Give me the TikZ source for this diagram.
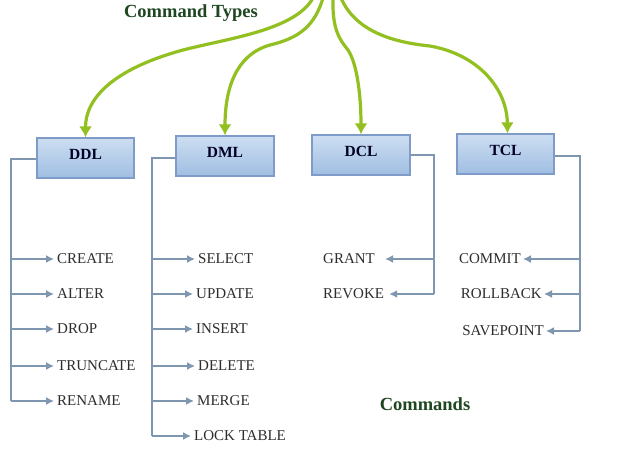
\documentclass[tikz,border=0pt]{standalone}
\usepackage{fontspec}
\setmainfont{Liberation Serif}
\usetikzlibrary{arrows.meta}
\definecolor{lgreen}{RGB}{146,192,32}
\definecolor{boxtop}{RGB}{205,222,242}
\definecolor{boxbot}{RGB}{160,190,226}
\definecolor{boxline}{RGB}{126,156,199}
\definecolor{conn}{RGB}{127,150,176}
\definecolor{itemtxt}{RGB}{45,45,45}
\definecolor{titlegreen}{RGB}{30,70,32}
\tikzset{
  cmdbox/.style={draw=boxline, line width=1.2pt, top color=boxtop, bottom color=boxbot,
    minimum width=97pt, minimum height=40pt, inner sep=0pt},
  boxlabel/.style={font=\fontsize{15.5}{18}\selectfont\bfseries, text=black!85!blue},
  item/.style={font=\fontsize{15}{17}\selectfont, text=itemtxt, inner xsep=2pt, inner ysep=1pt},
  bracket/.style={draw=conn, line width=1.5pt},
  arr/.style={draw=conn, line width=1.5pt, -{Latex[length=8pt,width=8pt]}},
  garr/.style={draw=lgreen, line width=3.2pt, -{Latex[length=11pt,width=13pt]}},
  title/.style={font=\fontsize{18.5}{21}\selectfont\bfseries, text=titlegreen}
}
\begin{document}
\begin{tikzpicture}[x=1pt,y=-1pt]
\clip (0,0) rectangle (634,452);
\fill[white] (0,0) rectangle (634,452);

% titles
\node[title] (ctypes) at (191,13) {Command Types};
\node[title] (cmds) at (425,404) {Commands};

% boxes
\node[cmdbox, label={[boxlabel, yshift=4pt]center:DDL}] (ddl) at (85.5,158) {};
\node[cmdbox, minimum width=98pt, label={[boxlabel, yshift=4pt]center:DML}] (dml) at (225,156) {};
\node[cmdbox, minimum width=98pt, label={[boxlabel, yshift=4pt]center:DCL}] (dcl) at (361,155) {};
\node[cmdbox, label={[boxlabel, yshift=4pt]center:TCL}] (tcl) at (505.5,154) {};

% root coordinates of the green arrows
\coordinate (r1) at (313,-2);
\coordinate (r2) at (323,-2);
\coordinate (r3) at (333,-2);
\coordinate (r4) at (341,-2);

\draw[garr] (r1) .. controls (295,30) and (230,38) .. (183,50)
  .. controls (110,70) and (85.5,100) .. (ddl.north);
\draw[garr] (r2) .. controls (315,25) and (300,38) .. (270,45)
  .. controls (235,55) and (225,90) .. (dml.north);
\draw[garr] (r3) .. controls (332,30) and (340,40) .. (348,50)
  .. controls (358,65) and (361,100) .. (dcl.north);
\draw[garr] (r4) .. controls (355,30) and (390,42) .. (430,46)
  .. controls (480,55) and (507,90) .. ([xshift=2pt]tcl.north);

% DDL items
\node[item, anchor=west] (create) at (55,259) {CREATE};
\node[item, anchor=west] (alter) at (55,294) {ALTER};
\node[item, anchor=west] (drop) at (55,329) {DROP};
\node[item, anchor=west] (truncate) at (55,366) {TRUNCATE};
\node[item, anchor=west] (rename) at (55,401) {RENAME};
\coordinate (ddlb) at (11,401);
\draw[bracket] ([yshift=-1pt]ddl.west) -| (ddlb);
\foreach \n in {create,alter,drop,truncate,rename}
  \draw[arr] (ddlb |- \n.west) -- ([xshift=-1pt]\n.west);

% DML items
\node[item, anchor=west] (select) at (196,259) {SELECT};
\node[item, anchor=west] (update) at (194,294) {UPDATE};
\node[item, anchor=west] (insert) at (194,329) {INSERT};
\node[item, anchor=west] (delete) at (196,366) {DELETE};
\node[item, anchor=west] (merge) at (195,401) {MERGE};
\node[item, anchor=west] (lock) at (192,436) {LOCK TABLE};
\coordinate (dmlb) at (152,436);
\draw[bracket] ([yshift=-2pt]dml.west) -| (dmlb);
\foreach \n in {select,update,insert,delete,merge,lock}
  \draw[arr] (dmlb |- \n.west) -- ([xshift=-1pt]\n.west);

% DCL items
\node[item, anchor=west] (grant) at (321,259) {GRANT};
\node[item, anchor=west] (revoke) at (321,294) {REVOKE};
\coordinate (dclb) at (434,294);
\draw[bracket] (dcl.east) -| (dclb);
\draw[arr] (dclb |- grant.east) -- ([xshift=8pt]grant.east);
\draw[arr] (dclb |- revoke.east) -- ([xshift=3pt]revoke.east);

% TCL items
\node[item, anchor=east] (commit) at (523,259) {COMMIT};
\node[item, anchor=east] (rollback) at (544,294) {ROLLBACK};
\node[item, anchor=east] (savepoint) at (546,331) {SAVEPOINT};
\coordinate (tclb) at (580,331);
\draw[bracket] ([yshift=-2pt]tcl.east) -| (tclb);
\foreach \n in {commit,rollback,savepoint}
  \draw[arr] (tclb |- \n.east) -- (\n.east);
\end{tikzpicture}
\end{document}
